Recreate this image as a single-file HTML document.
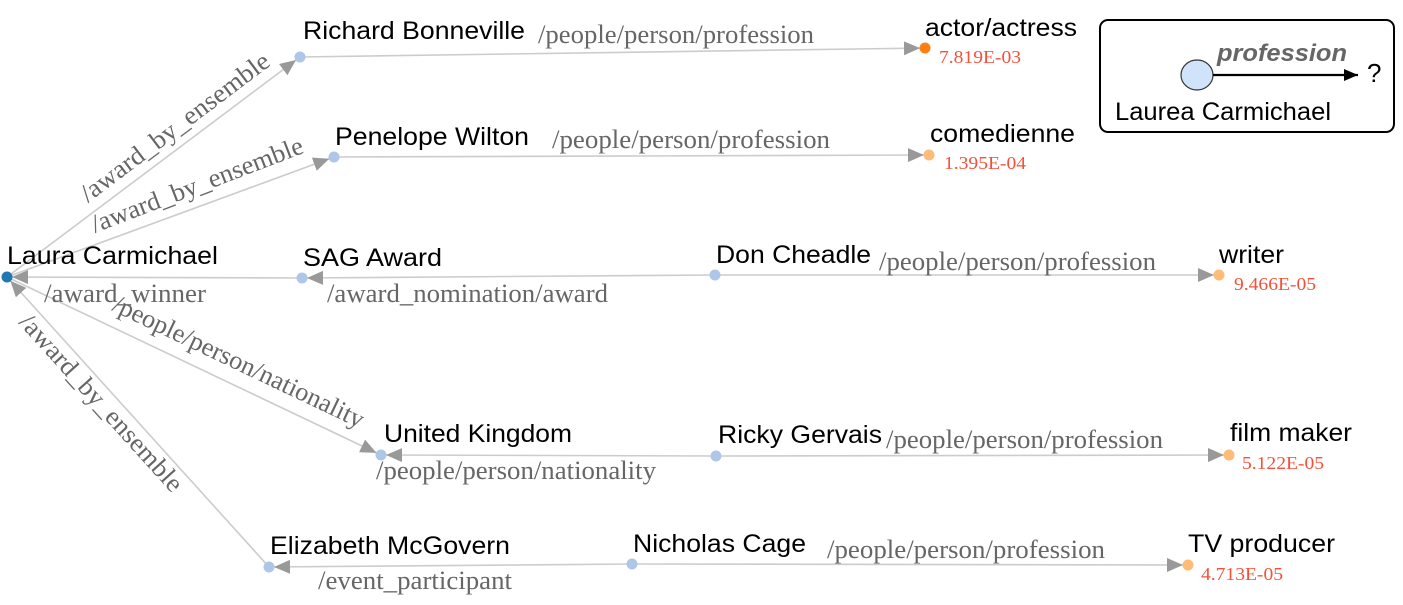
<!DOCTYPE html>
<html><head><meta charset="utf-8"><style>
html,body{margin:0;padding:0;background:#fff;}
svg{display:block;}
.n{font-family:"Liberation Sans",sans-serif;font-size:25px;fill:#000;}
.e{font-family:"Liberation Serif",serif;font-size:26px;fill:#666;}
.s{font-family:"Liberation Serif",serif;font-size:18px;fill:#f4513a;}
.l{stroke:#ccc;stroke-width:1.6;fill:none;}
</style></head><body>
<svg width="1403" height="605" viewBox="0 0 1403 605" xmlns="http://www.w3.org/2000/svg">
<defs>
<marker id="a" markerWidth="16" markerHeight="14" refX="21" refY="7" orient="auto" markerUnits="userSpaceOnUse">
<path d="M0,0 L16,7 L0,14 Z" fill="#999"/></marker>
<marker id="b" markerWidth="14" markerHeight="12" refX="14" refY="6" orient="auto" markerUnits="userSpaceOnUse">
<path d="M0,0 L14,6 L0,12 Z" fill="#000"/></marker>
</defs>

<line class="l" x1="7" y1="277" x2="300" y2="57" marker-end="url(#a)"/>
<line class="l" x1="7" y1="277" x2="334" y2="157" marker-end="url(#a)"/>
<line class="l" x1="302" y1="278" x2="7" y2="277" marker-end="url(#a)"/>
<line class="l" x1="715" y1="275" x2="302" y2="278" marker-end="url(#a)"/>
<line class="l" x1="715" y1="275" x2="1219" y2="275" marker-end="url(#a)"/>
<line class="l" x1="7" y1="277" x2="381" y2="455" marker-end="url(#a)"/>
<line class="l" x1="716" y1="456" x2="381" y2="455" marker-end="url(#a)"/>
<line class="l" x1="716" y1="456" x2="1229" y2="455" marker-end="url(#a)"/>
<line class="l" x1="269" y1="567" x2="7" y2="277" marker-end="url(#a)"/>
<line class="l" x1="632" y1="564" x2="269" y2="567" marker-end="url(#a)"/>
<line class="l" x1="632" y1="564" x2="1188" y2="565" marker-end="url(#a)"/>
<line class="l" x1="300" y1="57" x2="925" y2="48" marker-end="url(#a)"/>
<line class="l" x1="334" y1="157" x2="929" y2="155" marker-end="url(#a)"/>

<circle cx="7" cy="277" r="5.5" fill="#1f77b4"/>
<circle cx="300" cy="57" r="5.5" fill="#aec7e8"/>
<circle cx="334" cy="157" r="5.5" fill="#aec7e8"/>
<circle cx="302" cy="278" r="5.5" fill="#aec7e8"/>
<circle cx="715" cy="275" r="5.5" fill="#aec7e8"/>
<circle cx="381" cy="455" r="5.5" fill="#aec7e8"/>
<circle cx="716" cy="456" r="5.5" fill="#aec7e8"/>
<circle cx="269" cy="567" r="5.5" fill="#aec7e8"/>
<circle cx="632" cy="564" r="5.5" fill="#aec7e8"/>
<circle cx="925" cy="48" r="5.5" fill="#ff7f0e"/>
<circle cx="929" cy="155" r="5.5" fill="#ffbb78"/>
<circle cx="1219" cy="275" r="5.5" fill="#ffbb78"/>
<circle cx="1229" cy="455" r="5.5" fill="#ffbb78"/>
<circle cx="1188" cy="565" r="5.5" fill="#ffbb78"/>

<g lengthAdjust="spacingAndGlyphs">
<text class="n" x="303" y="39" textLength="222" lengthAdjust="spacingAndGlyphs">Richard Bonneville</text>
<text class="n" x="335" y="145" textLength="194" lengthAdjust="spacingAndGlyphs">Penelope Wilton</text>
<text class="n" x="7" y="264" textLength="211" lengthAdjust="spacingAndGlyphs">Laura Carmichael</text>
<text class="n" x="303" y="266" textLength="139" lengthAdjust="spacingAndGlyphs">SAG Award</text>
<text class="n" x="716" y="263" textLength="155" lengthAdjust="spacingAndGlyphs">Don Cheadle</text>
<text class="n" x="384" y="442" textLength="188" lengthAdjust="spacingAndGlyphs">United Kingdom</text>
<text class="n" x="718" y="443" textLength="164" lengthAdjust="spacingAndGlyphs">Ricky Gervais</text>
<text class="n" x="270" y="554" textLength="240" lengthAdjust="spacingAndGlyphs">Elizabeth McGovern</text>
<text class="n" x="633" y="552" textLength="173" lengthAdjust="spacingAndGlyphs">Nicholas Cage</text>
<text class="n" x="925" y="36" textLength="152" lengthAdjust="spacingAndGlyphs">actor/actress</text>
<text class="n" x="930" y="142" textLength="145" lengthAdjust="spacingAndGlyphs">comedienne</text>
<text class="n" x="1219" y="263" textLength="65" lengthAdjust="spacingAndGlyphs">writer</text>
<text class="n" x="1230" y="441" textLength="122" lengthAdjust="spacingAndGlyphs">film maker</text>
<text class="n" x="1188" y="552" textLength="147" lengthAdjust="spacingAndGlyphs">TV producer</text>

<text class="s" x="939" y="63" textLength="82" lengthAdjust="spacingAndGlyphs">7.819E-03</text>
<text class="s" x="944" y="169" textLength="82" lengthAdjust="spacingAndGlyphs">1.395E-04</text>
<text class="s" x="1234" y="290" textLength="82" lengthAdjust="spacingAndGlyphs">9.466E-05</text>
<text class="s" x="1242" y="469" textLength="82" lengthAdjust="spacingAndGlyphs">5.122E-05</text>
<text class="s" x="1201" y="580" textLength="82" lengthAdjust="spacingAndGlyphs">4.713E-05</text>

<text class="e" x="538" y="43" textLength="276" lengthAdjust="spacingAndGlyphs">/people/person/profession</text>
<text class="e" x="552" y="148" textLength="278" lengthAdjust="spacingAndGlyphs">/people/person/profession</text>
<text class="e" x="879" y="270" textLength="277" lengthAdjust="spacingAndGlyphs">/people/person/profession</text>
<text class="e" x="886" y="448" textLength="277" lengthAdjust="spacingAndGlyphs">/people/person/profession</text>
<text class="e" x="827" y="558" textLength="278" lengthAdjust="spacingAndGlyphs">/people/person/profession</text>
<text class="e" x="44" y="302" textLength="162" lengthAdjust="spacingAndGlyphs">/award_winner</text>
<text class="e" x="327" y="302" textLength="281" lengthAdjust="spacingAndGlyphs">/award_nomination/award</text>
<text class="e" x="376" y="479" textLength="280" lengthAdjust="spacingAndGlyphs">/people/person/nationality</text>
<text class="e" x="318" y="589" textLength="194" lengthAdjust="spacingAndGlyphs">/event_participant</text>
<text class="e" transform="translate(88,203) rotate(-37)" textLength="230" lengthAdjust="spacingAndGlyphs">/award_by_ensemble</text>
<text class="e" transform="translate(95,233) rotate(-21)" textLength="225" lengthAdjust="spacingAndGlyphs">/award_by_ensemble</text>
<text class="e" transform="translate(111,310) rotate(25.5)" textLength="275" lengthAdjust="spacingAndGlyphs">/people/person/nationality</text>
<text class="e" transform="translate(18,323) rotate(47.9)" textLength="230" lengthAdjust="spacingAndGlyphs">/award_by_ensemble</text>
</g>

<rect x="1100" y="20" width="294" height="112" rx="8" ry="8" fill="#fff" stroke="#000" stroke-width="2"/>
<ellipse cx="1197" cy="75" rx="16" ry="15" fill="#cfe3fa" stroke="#333" stroke-width="1.2"/>
<line x1="1213" y1="75" x2="1358" y2="75" stroke="#000" stroke-width="2.2" marker-end="url(#b)"/>
<text x="1217" y="61" font-family="Liberation Sans, sans-serif" font-size="24" font-weight="bold" font-style="italic" fill="#666" textLength="130" lengthAdjust="spacingAndGlyphs">profession</text>
<text x="1367" y="82" font-family="Liberation Sans, sans-serif" font-size="26" fill="#000">?</text>
<text x="1115" y="120" font-family="Liberation Sans, sans-serif" font-size="25" fill="#000" textLength="216" lengthAdjust="spacingAndGlyphs">Laurea Carmichael</text>
</svg>
</body></html>
